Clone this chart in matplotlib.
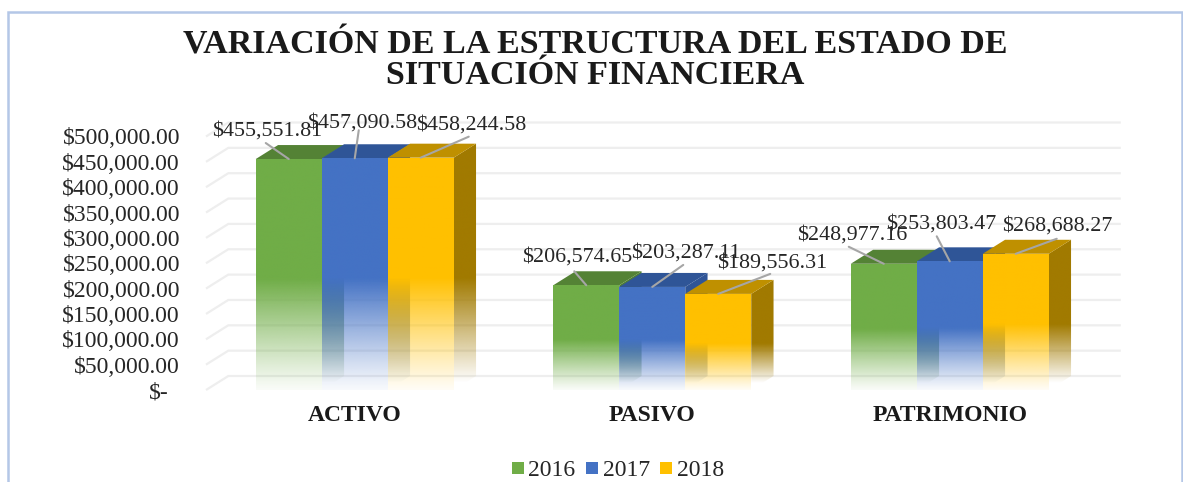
import numpy as np
import matplotlib
matplotlib.use("Agg")
import matplotlib.pyplot as plt
from matplotlib.colors import to_rgb
from matplotlib.patches import Patch, Polygon, Rectangle
from matplotlib.transforms import ScaledTranslation

plt.rcParams['font.family'] = ['Liberation Serif', 'DejaVu Serif']

# Data ---------------------------------------------
categories = ['ACTIVO', 'PASIVO', 'PATRIMONIO']
years = ['2016', '2017', '2018']
values_2016 = [455551.81, 206574.65, 248977.16]
values_2017 = [457090.58, 203287.11, 253803.47]
values_2018 = [458244.58, 189556.31, 268688.27]
y_ticks = [0, 50000, 100000, 150000, 200000, 250000, 300000, 350000, 400000, 450000, 500000]
y_labels = ['$-', '$50,000.00', '$100,000.00', '$150,000.00', '$200,000.00', '$250,000.00',
            '$300,000.00', '$350,000.00', '$400,000.00', '$450,000.00', '$500,000.00']

# Style --------------------------------------------
front_colors = ['#70ad47', '#4472c4', '#ffc000']
top_colors = ['#548235', '#2f5597', '#bf9000']
side_colors = ['#4f7f32', '#2f5597', '#a17a00']
bar_w = 0.2218
depth_x = 0.075   # 3d offset, category units
depth_y = 27600   # 3d offset, value units
fade_at = 0.48    # share of the bar height where the fade starts
grid_color = '#eeeeee'
leader_color = '#a6a6a6'

# label and leader offsets from the bar top centre, pixels
label_off = [[(-22, 28), (7, 35), (50, 33)],
             [(-9, 28), (34, 34), (54, 31)],
             [(-32, 29), (-9, 37), (42, 28)]]
leader_off = [[(-23, 16), (4, 28), (48, 21)],
              [(-12, 14), (31, 22), (52, 20)],
              [(-35, 17), (-13, 25), (41, 15)]]

W, H = 1183, 482
fig = plt.figure(figsize=(W / 100, H / 100), dpi=100)
ax = fig.add_axes([206 / W, (H - 390) / H, 892.5 / W, 253.5 / H])
ax.patch.set_alpha(0)

# Chart border, cut off at the bottom of the picture
fig.add_artist(Rectangle((7.5 / W, -0.1), (1181.5 - 7.5) / W, 1.1 - 11.5 / H,
                         transform=fig.transFigure, fill=False, edgecolor='#b4c7e7', lw=1.8))

# Back wall ----------------------------------------
xl, xr = -0.5, 2.5
for t in y_ticks:
    ax.plot([xl, xl + depth_x, xr + depth_x], [t, t + depth_y, t + depth_y],
            color=grid_color, lw=1.6, clip_on=False, zorder=1, solid_capstyle='butt')


def fade_face(color, x0, x1, y_top, ramp, clip, z):
    rows = np.linspace(0, y_top, 256)
    img = np.zeros((256, 1, 4))
    img[..., :3] = to_rgb(color)
    img[:, 0, 3] = ramp(rows)
    im = ax.imshow(img, origin='lower', extent=(x0, x1, 0, y_top), aspect='auto',
                   interpolation='bilinear', zorder=z)
    im.set_clip_path(Polygon(clip, transform=ax.transData))


# Bars ---------------------------------------------
series = [values_2016, values_2017, values_2018]
z = 2
for c in range(len(categories)):
    for s, vals in enumerate(series):
        v = vals[c]
        x0 = c + (s - 1.5) * bar_w
        x1 = x0 + bar_w
        start = fade_at * v

        side = [(x1, 0), (x1 + depth_x, depth_y), (x1 + depth_x, v + depth_y), (x1, v)]
        fade_face(side_colors[s], x1, x1 + depth_x, v + depth_y,
                  lambda y: np.clip((y - 0.5 * depth_y) / (start - 0.5 * depth_y), 0.0, 1.0),
                  side, z)
        top = [(x0, v), (x0 + depth_x, v + depth_y), (x1 + depth_x, v + depth_y), (x1, v)]
        ax.add_patch(Polygon(top, facecolor=top_colors[s], edgecolor='none', zorder=z + 1))
        front = [(x0, 0), (x0, v), (x1, v), (x1, 0)]
        fade_face(front_colors[s], x0, x1, v,
                  lambda y: 0.04 + 0.96 * np.clip(y / start, 0, 1) ** 1.1,
                  front, z + 2)
        z += 3

# Labels and leaders -------------------------------
for c in range(len(categories)):
    for s, vals in enumerate(series):
        v = vals[c]
        xc = c + (s - 1) * bar_w
        ax.annotate('', xy=(xc, v), xytext=leader_off[c][s], textcoords='offset pixels',
                    arrowprops=dict(arrowstyle='-', color=leader_color, lw=1.5,
                                    shrinkA=0, shrinkB=0), zorder=80)
        ax.annotate(f'${v:,.2f}', xy=(xc, v), xytext=label_off[c][s], textcoords='offset pixels',
                    ha='center', va='center', fontsize=15.8, color='#262626', zorder=90)

# Axes ---------------------------------------------
ax.set_xlim(xl, xr)
ax.set_ylim(0, 500000)
ax.set_xticks(range(len(categories)))
ax.set_xticklabels(categories, fontsize=17, fontweight='bold', color='#1a1a1a')
ax.set_yticks(y_ticks)
ax.set_yticklabels(y_labels, fontsize=17, color='#262626')
ax.tick_params(axis='both', length=0)
ax.tick_params(axis='x', pad=11)
ax.tick_params(axis='y', pad=18.7)
ax.get_yticklabels()[0].set_transform(
    ax.get_yticklabels()[0].get_transform() + ScaledTranslation(-8 / 72, 0, fig.dpi_scale_trans))
for sp in ax.spines.values():
    sp.set_visible(False)

# Title --------------------------------------------
fig.text(595 / W, 1 - 60 / H, 'VARIACIÓN DE LA ESTRUCTURA DEL ESTADO DE\nSITUACIÓN FINANCIERA',
         ha='center', va='center', fontsize=24.5, fontweight='bold', color='#1a1a1a',
         linespacing=1.0)

# Legend -------------------------------------------
handles = [Patch(facecolor=col, edgecolor='none') for col in front_colors]
fig.legend(handles, years, loc='center', bbox_to_anchor=(618 / W, 1 - 471 / H), ncol=3, frameon=False,
           fontsize=17, handletextpad=0.2, columnspacing=0.45, handlelength=0.5, handleheight=0.4,
           borderpad=0, labelcolor='#262626')

fig.savefig('out.png', dpi=100)
